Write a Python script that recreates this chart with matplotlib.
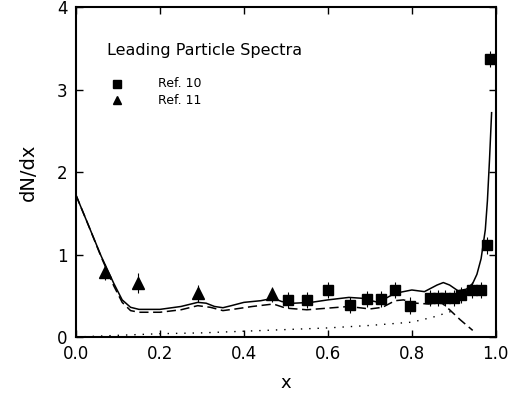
import matplotlib; matplotlib.use("Agg")
import matplotlib.pyplot as plt

plt.rcParams['font.family'] = ['DejaVu Sans']

# Ref. 11 (triangles)
tri_x = [0.07, 0.148, 0.29, 0.467]
tri_y = [0.79, 0.65, 0.53, 0.52]
tri_e = [0.10, 0.12, 0.10, 0.09]

# Ref. 10 (squares)
sq_x = [0.505, 0.55, 0.60, 0.652, 0.693, 0.726, 0.76, 0.795, 0.843, 0.862, 0.88,
        0.90, 0.918, 0.943, 0.965, 0.978, 0.986]
sq_y = [0.45, 0.45, 0.57, 0.39, 0.46, 0.46, 0.57, 0.38, 0.47, 0.47, 0.47,
        0.47, 0.51, 0.57, 0.57, 1.11, 3.37]
sq_e = [0.10] * len(sq_x)

# model curves
solid_x = [0.0, 0.03, 0.06, 0.09, 0.11, 0.13, 0.15, 0.2, 0.25, 0.29, 0.31, 0.33, 0.35, 0.37,
           0.40, 0.44, 0.47, 0.49, 0.52, 0.56, 0.60, 0.65, 0.68, 0.72, 0.76, 0.80, 0.83, 0.86,
           0.875, 0.89, 0.91, 0.93, 0.945, 0.955, 0.965, 0.975, 0.98, 0.985, 0.99]
solid_y = [1.72, 1.35, 0.98, 0.65, 0.45, 0.36, 0.335, 0.335, 0.37, 0.42, 0.41, 0.37, 0.355, 0.38,
           0.42, 0.44, 0.47, 0.43, 0.41, 0.42, 0.45, 0.48, 0.47, 0.42, 0.53, 0.57, 0.55, 0.63,
           0.66, 0.63, 0.56, 0.58, 0.65, 0.76, 0.95, 1.3, 1.65, 2.15, 2.72]
dash_x = [0.0, 0.03, 0.06, 0.09, 0.11, 0.13, 0.15, 0.2, 0.25, 0.29, 0.32, 0.35, 0.38, 0.42,
          0.47, 0.50, 0.55, 0.60, 0.65, 0.70, 0.73, 0.76, 0.78, 0.81, 0.84, 0.87, 0.89, 0.915, 0.945]
dash_y = [1.72, 1.35, 0.97, 0.62, 0.42, 0.32, 0.30, 0.30, 0.33, 0.38, 0.36, 0.32, 0.34, 0.37,
          0.40, 0.35, 0.33, 0.35, 0.37, 0.34, 0.36, 0.44, 0.45, 0.41, 0.40, 0.42, 0.33, 0.21, 0.08]
dot_x = [0.0, 0.1, 0.2, 0.3, 0.4, 0.5, 0.6, 0.7, 0.8, 0.85, 0.9]
dot_y = [0.0, 0.02, 0.04, 0.05, 0.07, 0.09, 0.11, 0.14, 0.18, 0.24, 0.32]

fig = plt.figure(figsize=(5.17, 3.96), dpi=100)
ax = fig.add_axes([0.147, 0.149, 0.812, 0.833])

ax.plot(solid_x, solid_y, "-", color="k", lw=1.1)
ax.plot(dash_x, dash_y, color="k", lw=1.1, ls=(0, (6, 3)))
ax.plot(dot_x, dot_y, color="k", lw=1.0, ls=(0, (1, 5)))

ax.errorbar(sq_x, sq_y, yerr=sq_e, fmt="s", color="k", ms=7.5, elinewidth=0.8, capsize=0)
ax.errorbar(tri_x, tri_y, yerr=tri_e, fmt="^", color="k", ms=8, elinewidth=0.8, capsize=0)

ax.text(0.074, 3.48, "Leading Particle Spectra", fontsize=11.5, va="center")
ax.plot([0.098], [3.07], "s", color="k", ms=6)
ax.plot([0.098], [2.87], "^", color="k", ms=6)
ax.text(0.195, 3.07, "Ref. 10", fontsize=9, va="center")
ax.text(0.195, 2.87, "Ref. 11", fontsize=9, va="center")

ax.set_xlim(0, 1.0); ax.set_ylim(0, 4)
ax.set_xticks([0.0, 0.2, 0.4, 0.6, 0.8, 1.0])
ax.set_xticklabels(["0.0", "0.2", "0.4", "0.6", "0.8", "1.0"])
ax.set_yticks([0, 1, 2, 3, 4])
ax.tick_params(direction="in", top=True, right=True, length=5, width=1, labelsize=12, pad=6)
for s in ax.spines.values():
    s.set_linewidth(1.5)
ax.set_xlabel("x", fontsize=13, labelpad=8)
ax.set_ylabel("dN/dx", fontsize=14, labelpad=14)

fig.savefig("out.png", dpi=100)
